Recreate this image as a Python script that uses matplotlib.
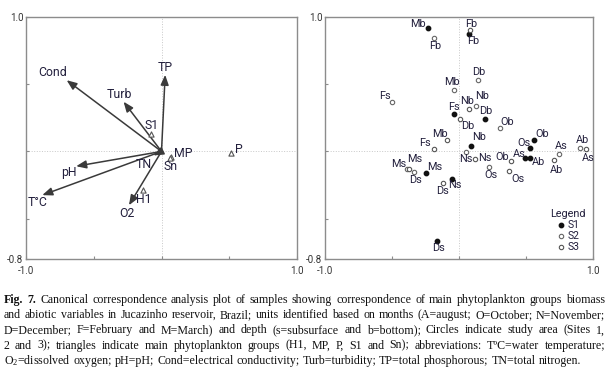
import matplotlib
matplotlib.use("Agg")
import matplotlib.pyplot as plt

plt.rcParams['font.family'] = ['Roboto', 'DejaVu Sans']
plt.rcParams['mathtext.default'] = 'regular'

# left panel: environmental vectors (arrow tips)
env_names = ['Cond', 'Turb', 'TP', 'pH', 'T°C', 'TN', 'O2']
env_x = [-0.70, -0.28, 0.027, -0.63, -0.88, -0.06, -0.24]
env_y = [0.53, 0.37, 0.57, -0.11, -0.325, -0.03, -0.40]

# left panel: phytoplankton groups (triangles)
grp_names = ['S1', 'MP', 'Sn', 'P', 'H1']
grp_x = [-0.079, 0.071, 0.062, 0.512, -0.14]
grp_y = [0.129, -0.04, -0.047, -0.015, -0.285]

# right panel: samples
s1_names = ['Mb', 'Fb', 'Fs', 'Db', 'Ob', 'Os', 'Nb', 'As', 'Ab', 'Ms', 'Ns', 'Ds']
s1_x = [-0.235, 0.078, -0.041, 0.191, 0.557, 0.527, 0.093, 0.494, 0.529, -0.248, -0.049, -0.161]
s1_y = [0.921, 0.876, 0.280, 0.243, 0.082, 0.027, 0.037, -0.047, -0.047, -0.164, -0.203, -0.667]

s2_names = ['Fb', 'Db', 'Mb', 'Fs', 'Nb', 'Ob', 'Ab', 'As', 'Ns', 'Os', 'Ms', 'Ds']
s2_x = [-0.186, 0.143, -0.041, -0.499, 0.128, 0.303, 0.900, 0.743, 0.051, 0.223, -0.390, -0.337]
s2_y = [0.844, 0.529, 0.459, 0.367, 0.340, 0.176, 0.022, -0.017, -0.002, -0.119, -0.129, -0.151]

s3_names = ['Fb', 'Db', 'Mb', 'Fs', 'Nb', 'Ob', 'Ab', 'As', 'Ns', 'Os', 'Ms', 'Ds']
s3_x = [0.081, 0.004, -0.091, -0.188, 0.078, 0.390, 0.706, 0.945, 0.121, 0.375, -0.372, -0.121]
s3_y = [0.901, 0.243, 0.082, 0.017, 0.315, -0.072, -0.067, 0.020, -0.055, -0.149, -0.129, -0.238]

caption_lines = [
    "Fig. 7. Canonical correspondence analysis plot of samples showing correspondence of main phytoplankton groups biomass",
    "and abiotic variables in Jucazinho reservoir, Brazil; units identified based on months (A=august; O=October; N=November;",
    "D=December; F=February and M=March) and depth (s=subsurface and b=bottom); Circles indicate study area (Sites 1,",
    "2 and 3); triangles indicate main phytoplankton groups (H1, MP, P, S1 and Sn); abbreviations: TºC=water temperature;",
    "O$_2$=dissolved oxygen; pH=pH; Cond=electrical conductivity; Turb=turbidity; TP=total phosphorous; TN=total nitrogen.",
]

# label offsets in pixels
env_off = [(-14, 7.7), (-4, 7.7), (0.3, 7.7), (-7.7, -6.7), (-4.3, -7.3), (-10, -9.3), (-1.7, -8.3)]
grp_off = [(0.3, 9), (11.7, 3.7), (0.7, -9), (7.7, 3.7), (1, -9.3)]
s1_off = [(-10, 3.7), (4, -7.3), (0.7, 7.3), (1.3, 7.7), (8.3, 6.3), (-5.3, 5.3),
          (7.7, 9), (-6, 4), (9, -4.3), (9, 6), (2.7, -6), (1, -7)]
s2_off = [(0.7, -7.7), (1, 8), (-1.3, 8), (-6.7, 5.7), (5.7, 9.3), (7.3, 5.7),
          (3.3, 8.7), (2.3, 8), (0.3, -7.7), (2, -8), (-8.3, 4.7), (1.7, -8)]
s3_off = [(1.3, 6.7), (8, -7.7), (-6.7, 6.3), (-8.7, 5.7), (-2, 7.7), (-8.7, 3.7),
          (3.3, -9.3), (3, -9.3), (9.3, 1.3), (8.7, -7.3), (6, 9.7), (0, -8)]

W, H = 613, 374
fig = plt.figure(figsize=(W / 100, H / 100), dpi=100)

lab_col = '#221f3c'
spine_col = '#8c8c8c'


def setup(ax):
    ax.set_xlim(-1, 1)
    ax.set_ylim(-0.8, 1.0)
    ax.set_xticks([-1, -0.5, 0, 0.5, 1])
    ax.set_xticklabels(['-1.0', '', '', '', '1.0'])
    ax.set_yticks([-0.8, -0.5, 0, 0.5, 1.0])
    ax.set_yticklabels(['-0.8', '', '', '', '1.0'])
    ax.tick_params(direction='in', length=2.5, width=0.8, color=spine_col,
                   labelsize=7, labelcolor='#333333', pad=2)
    ax.tick_params(axis='x', pad=5)
    for s in ax.spines.values():
        s.set_color(spine_col)
        s.set_linewidth(1.0)
    ax.axhline(0, color='#c8c8c8', lw=0.7, ls=':', zorder=0)
    ax.axvline(0, color='#c8c8c8', lw=0.7, ls=':', zorder=0)


ax1 = fig.add_axes([26 / W, 1 - 259 / H, 271 / W, 242 / H])
ax2 = fig.add_axes([325 / W, 1 - 259 / H, 268 / W, 242 / H])
setup(ax1)
setup(ax2)

for name, x, y, off in zip(env_names, env_x, env_y, env_off):
    ax1.annotate('', xy=(x, y), xytext=(0, 0),
                 arrowprops=dict(arrowstyle='-|>,head_length=0.6,head_width=0.24',
                                 color='#3a3a3a', lw=1.1, shrinkA=0, shrinkB=0))
    ax1.annotate(name, xy=(x, y), xytext=off, textcoords='offset pixels',
                 ha='center', va='center', fontsize=8.8, color=lab_col)

ax1.scatter(grp_x, grp_y, marker='^', s=14, facecolor='white', edgecolor='#555555',
            linewidths=0.8, zorder=3)
for name, x, y, off in zip(grp_names, grp_x, grp_y, grp_off):
    ax1.annotate(name, xy=(x, y), xytext=off, textcoords='offset pixels',
                 ha='center', va='center', fontsize=8.8, color=lab_col)

ax2.scatter(s1_x, s1_y, s=10, color='#111111', zorder=3, label='S1')
ax2.scatter(s2_x, s2_y, s=10, facecolor='white', edgecolor='#666666',
            linewidths=0.8, zorder=3, label='S2')
ax2.scatter(s3_x, s3_y, s=10, facecolor='white', edgecolor='#555555',
            linewidths=0.8, zorder=3, label='S3')

for names, xs, ys, offs in [(s1_names, s1_x, s1_y, s1_off),
                            (s2_names, s2_x, s2_y, s2_off),
                            (s3_names, s3_x, s3_y, s3_off)]:
    for name, x, y, off in zip(names, xs, ys, offs):
        ax2.annotate(name, xy=(x, y), xytext=off, textcoords='offset pixels',
                     ha='center', va='center', fontsize=7.8, color=lab_col)

leg = ax2.legend(title='Legend', loc='lower right', frameon=False, fontsize=7.5,
                 handletextpad=0.1, labelspacing=0.1, borderaxespad=0.3,
                 handlelength=1.0, markerscale=1.0)
leg.get_title().set_fontsize(7.8)
leg.get_title().set_color(lab_col)
for t in leg.get_texts():
    t.set_color(lab_col)

# caption, justified word by word (last line left aligned)
renderer = fig.canvas.get_renderer()
left, right = 4, 605
baselines = [302.7, 318, 333.3, 348.6, 364]
cap_size = 8.55
for i, line in enumerate(caption_lines):
    words = line.split(' ')
    texts = []
    for j, w in enumerate(words):
        bold = (i == 0 and j < 2)
        t = fig.text(0, 1 - baselines[i] / H, w, fontsize=cap_size,
                     family='Liberation Serif', weight='bold' if bold else 'normal',
                     color='#111111', va='baseline', ha='left')
        texts.append(t)
    widths = [t.get_window_extent(renderer).width for t in texts]
    if i == len(caption_lines) - 1:
        gap = cap_size * 0.25 * 100 / 72
    else:
        gap = (right - left - sum(widths)) / (len(words) - 1)
    x = left
    for t, w in zip(texts, widths):
        t.set_x(x / W)
        x += w + gap

fig.savefig('out.png', dpi=100)
